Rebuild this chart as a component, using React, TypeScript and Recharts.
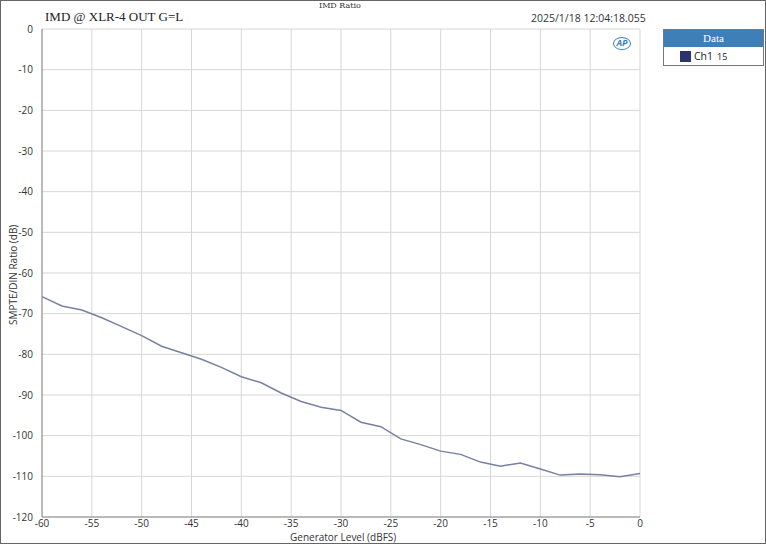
import { LineChart, Line, XAxis, YAxis, CartesianGrid } from "recharts";

const levels = [-60, -58, -56, -54, -52, -50, -48, -46, -44, -42, -40, -38, -36, -34, -32, -30, -28, -26, -24, -22, -20, -18, -16, -14, -12, -10, -8, -6, -4, -2, 0];
const ch1 = [-65.8, -68.1, -69.1, -71.0, -73.2, -75.4, -78.0, -79.6, -81.2, -83.2, -85.5, -87.0, -89.5, -91.6, -93.0, -93.8, -96.7, -97.8, -100.8, -102.2, -103.8, -104.6, -106.5, -107.5, -106.7, -108.2, -109.7, -109.4, -109.6, -110.1, -109.3];
const xTicks = [-60, -55, -50, -45, -40, -35, -30, -25, -20, -15, -10, -5, 0];
const yTicks = [0, -10, -20, -30, -40, -50, -60, -70, -80, -90, -100, -110, -120];

const data = levels.map((x, i) => ({ x, ch1: ch1[i] }));

const tickStyle = { fill: "#333", fontSize: 10, fontFamily: "'Open Sans', sans-serif" };

export default function App() {
  return (
    <div style={{ position: "absolute", left: 0, top: 0, width: 766, height: 544, background: "#fff", boxSizing: "border-box", border: "1px solid #666", fontFamily: "'Open Sans', sans-serif" }}>
      <LineChart width={764} height={542} data={data} margin={{ top: 28, right: 125, left: 0, bottom: 0 }} style={{ position: "absolute", left: 0, top: 0 }}>
        <CartesianGrid stroke="#d6d6d6" strokeWidth={1} />
        <XAxis
          dataKey="x"
          type="number"
          domain={[-60, 0]}
          ticks={xTicks}
          height={26}
          tick={tickStyle}
          tickLine={false}
          stroke="#888"
          tickMargin={-3}
        />
        <YAxis
          type="number"
          domain={[-120, 0]}
          ticks={yTicks}
          width={41}
          tick={tickStyle}
          tickLine={false}
          stroke="#888"
          tickMargin={3}
          label={{ value: "SMPTE/DIN Ratio (dB)", angle: -90, position: "insideLeft", dx: 7, dy: 52, style: { fill: "#333", fontSize: 10, fontFamily: "'Open Sans', sans-serif" } }}
        />
        <Line dataKey="ch1" stroke="#7582a0" strokeWidth={1.5} dot={false} isAnimationActive={false} type="linear" />
      </LineChart>
      <div style={{ position: "absolute", left: 318, top: 0, fontSize: 8, fontFamily: "'DejaVu Serif', serif", color: "#333" }}>IMD Ratio</div>
      <div style={{ position: "absolute", left: 44, top: 8, fontSize: 13, fontFamily: "'Liberation Serif', serif", color: "#222" }}>IMD @ XLR-4 OUT G=L</div>
      <div style={{ position: "absolute", left: 530, top: 10, fontSize: 10.5, color: "#333" }}>2025/1/18 12:04:18.055</div>
      <div style={{ position: "absolute", left: 612, top: 36, width: 18, height: 13, borderRadius: "50%", border: "1.5px solid #3a7fc0", boxSizing: "border-box", fontSize: 9, lineHeight: "10px", textAlign: "center", fontWeight: "bold", fontStyle: "italic", color: "#3a7fc0" }}>AP</div>
      <div style={{ position: "absolute", left: 289, top: 529, fontSize: 10, color: "#333" }}>Generator Level (dBFS)</div>
      <div style={{ position: "absolute", left: 662, top: 28, width: 101, height: 37, border: "1px solid #777", boxSizing: "border-box", background: "#fff" }}>
        <div style={{ background: "#3f7fb7", color: "#fff", fontSize: 11, textAlign: "center", height: 17, lineHeight: "17px", fontFamily: "'Liberation Serif', serif" }}>Data</div>
        <div style={{ display: "flex", alignItems: "center", paddingLeft: 16, height: 18, fontSize: 10.5, color: "#222" }}>
          <span style={{ width: 11, height: 11, background: "#2a3570", display: "inline-block", marginRight: 3 }} />
          <span>Ch1</span>
          <span style={{ fontSize: 9, marginLeft: 4 }}>15</span>
        </div>
      </div>
    </div>
  );
}
